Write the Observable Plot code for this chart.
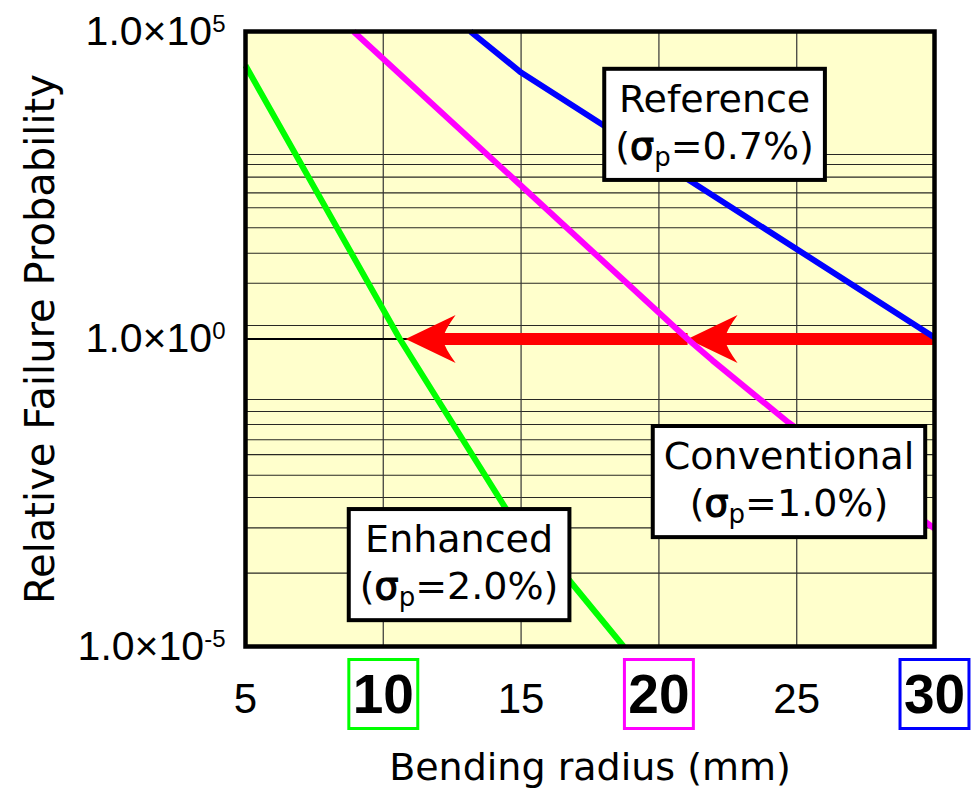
<!DOCTYPE html>
<html><head><meta charset="utf-8">
<script src="https://cdn.jsdelivr.net/npm/d3@7"></script>
<script src="https://cdn.jsdelivr.net/npm/@observablehq/plot@0.6"></script>
<style>body{margin:0;background:#fff}</style>
</head><body><div id="chart"></div>
<script>
// ---- data ----
const xTitle = "Bending radius (mm)";
const yTitle = "Relative Failure Probability";
const xTicksPlain = [5, 15, 25];
const xTicksBold = [10, 20, 30];
const xTickBoldColors = ["#00ff00", "#ff00ff", "#0000ff"];
const yTicks = [1e-5, 1, 1e5];
const yGrid = [1000, 687, 428, 238, 136, 64.3, 24.8, 8.07, 1.66, 0.104, 0.0662, 0.0407, 0.023, 0.0132, 0.0061, 0.00265, 8.5e-4, 1.56e-4];
const xGrid = [10, 15, 20, 25];

const seriesNames = ["Reference", "Conventional", "Enhanced"];
const seriesSigma = ["0.7%", "1.0%", "2.0%"];
const seriesColors = ["#0000ff", "#ff00ff", "#00ff00"];
const referenceX = [13.16, 15, 30];
const referenceY = [1e5, 2.15e4, 1.06];
const conventionalX = [8.92, 21.04, 21.94, 24.70, 30];
const conventionalY = [1e5, 1, 0.45, 0.0439, 8.3e-4];
const enhancedX = [5, 10.6, 14.43, 15.5, 16.68, 18.72];
const enhancedY = [2.8e4, 1, 1.8e-3, 4.5e-4, 1.3e-4, 1e-5];
const labelX = [22.02, 24.72, 12.75];
const labelY = [3.6e3, 5.6e-3, 2.5e-4];

const arrowLevel = 1;
const arrowFrom = [30, 21.04];
const arrowTo = [21.04, 10.81];

// ---- build tables ----
const seriesX = [referenceX, conventionalX, enhancedX];
const seriesY = [referenceY, conventionalY, enhancedY];
const lineData = [];
seriesNames.forEach((name, s) => seriesX[s].forEach((x, i) =>
  lineData.push({name, color: seriesColors[s], x, y: seriesY[s][i]})));
const labels = seriesNames.map((name, i) => ({x: labelX[i], y: labelY[i], text: `${name}\n(σp=${seriesSigma[i]})`}));
const arrows = arrowFrom.map((x1, i) => ({x1, x2: arrowTo[i]}));

const arrowHead = {
  draw(context) {
    context.moveTo(0, 0);
    context.lineTo(50, -24);
    context.quadraticCurveTo(39, -9, 37, 0);
    context.quadraticCurveTo(39, 9, 50, 24);
    context.closePath();
  }
};

const TICK_FONT = "'Liberation Sans', Arial, sans-serif";
const TEXT_FONT = "'DejaVu Sans', sans-serif";

const chart = Plot.plot({
  width: 977,
  height: 788,
  marginLeft: 245,
  marginRight: 43,
  marginTop: 31,
  marginBottom: 142,
  x: {domain: [5, 30]},
  y: {type: "log", domain: [1e-5, 1e5]},
  color: {type: "identity"},
  marks: [
    Plot.frame({fill: "#ffffcc", stroke: "none"}),
    Plot.ruleY(yGrid, {stroke: "#111", strokeWidth: 1.1, strokeOpacity: 0.9}),
    Plot.ruleX(xGrid, {stroke: "#333", strokeWidth: 1.4, strokeOpacity: 0.85}),
    Plot.ruleY([arrowLevel], {stroke: "#000", strokeWidth: 2}),
    Plot.arrow(arrows, {x1: "x1", x2: "x2", y1: () => arrowLevel, y2: () => arrowLevel,
      stroke: "#ff0000", strokeWidth: 12, headLength: 0, insetEnd: 30,
      strokeLinecap: "butt", strokeLinejoin: "miter"}),
    Plot.dot(arrowTo, {x: d => d, y: () => arrowLevel, symbol: arrowHead, r: 1, fill: "#ff0000", stroke: "none"}),
    Plot.line(lineData, {x: "x", y: "y", z: "name", stroke: "color", strokeWidth: 6, strokeLinecap: "butt"}),
    Plot.text(labels, {x: "x", y: "y", text: "text", fontSize: 38, lineHeight: 1.24,
      fontFamily: TEXT_FONT, fill: "#000"}),
    Plot.frame({stroke: "#000", strokeWidth: 4.5}),
    Plot.axisY({ticks: yTicks, tickSize: 0, tickPadding: 20, fontSize: 41, fontFamily: TICK_FONT,
      label: null, tickFormat: d => `1.0×10^${Math.round(Math.log10(d))}`, fill: "#000"}),
    Plot.axisX({ticks: xTicksPlain, tickSize: 0, tickPadding: 37, fontSize: 42, fontFamily: TICK_FONT,
      label: null, fill: "#000"}),
    Plot.axisX({ticks: xTicksBold, tickSize: 0, tickPadding: 27, fontSize: 55, fontWeight: "bold",
      fontFamily: TICK_FONT, label: null, fill: "#000"}),
    Plot.dot(xTicksBold, {x: d => d, frameAnchor: "bottom", dy: 47.5, symbol: "square", r: 38.9,
      stroke: (d, i) => xTickBoldColors[i], strokeWidth: 3, fill: "none"}),
    Plot.text([xTitle], {frameAnchor: "bottom", textAnchor: "middle", dy: 133, lineAnchor: "bottom", fontSize: 38,
      fontFamily: TEXT_FONT, fill: "#000"}),
    Plot.text([yTitle], {frameAnchor: "left", textAnchor: "middle", dx: -192, rotate: -90, lineAnchor: "bottom", fontSize: 40,
      fontFamily: TEXT_FONT, fill: "#000"})
  ]
});
document.getElementById("chart").appendChild(chart);

const svgNS = "http://www.w3.org/2000/svg";

// superscript exponents on y tick labels
chart.querySelectorAll("text").forEach(t => {
  if (t.querySelector("tspan")) return;
  const s = t.textContent;
  if (!s.startsWith("1.0×10^")) return;
  const [base, exp] = s.split("^");
  t.textContent = base;
  const sup = document.createElementNS(svgNS, "tspan");
  sup.setAttribute("font-size", "24");
  sup.setAttribute("dy", "-13");
  sup.textContent = exp;
  t.appendChild(sup);
});

// subscripts and boxes on annotations
const annTexts = Array.from(chart.querySelectorAll("text")).filter(t => t.textContent.includes("σp="));
annTexts.forEach(t => {
  t.querySelectorAll("tspan").forEach(ts => {
    const m = ts.textContent.match(/^\(σp=(.*)\)$/);
    if (!m) return;
    ts.textContent = "(";
    const sig = document.createElementNS(svgNS, "tspan");
    sig.setAttribute("stroke", "#000");
    sig.setAttribute("stroke-width", "1.2");
    sig.textContent = "σ";
    const sub = document.createElementNS(svgNS, "tspan");
    sub.setAttribute("font-size", "26");
    sub.setAttribute("dy", "7");
    sub.textContent = "p";
    const rest = document.createElementNS(svgNS, "tspan");
    rest.setAttribute("dy", "-7");
    rest.textContent = `=${m[1]})`;
    ts.append(sig, sub, rest);
  });
  const bb = t.getBBox();
  const padX = 11, padY = 8;
  const rect = document.createElementNS(svgNS, "rect");
  rect.setAttribute("x", bb.x - padX);
  rect.setAttribute("y", bb.y - padY);
  rect.setAttribute("width", bb.width + 2 * padX);
  rect.setAttribute("height", bb.height + 2 * padY);
  rect.setAttribute("fill", "#fff");
  rect.setAttribute("stroke", "#000");
  rect.setAttribute("stroke-width", "4");
  if (t.getAttribute("transform")) rect.setAttribute("transform", t.getAttribute("transform"));
  t.parentNode.insertBefore(rect, t);
});
</script>
</body></html>
